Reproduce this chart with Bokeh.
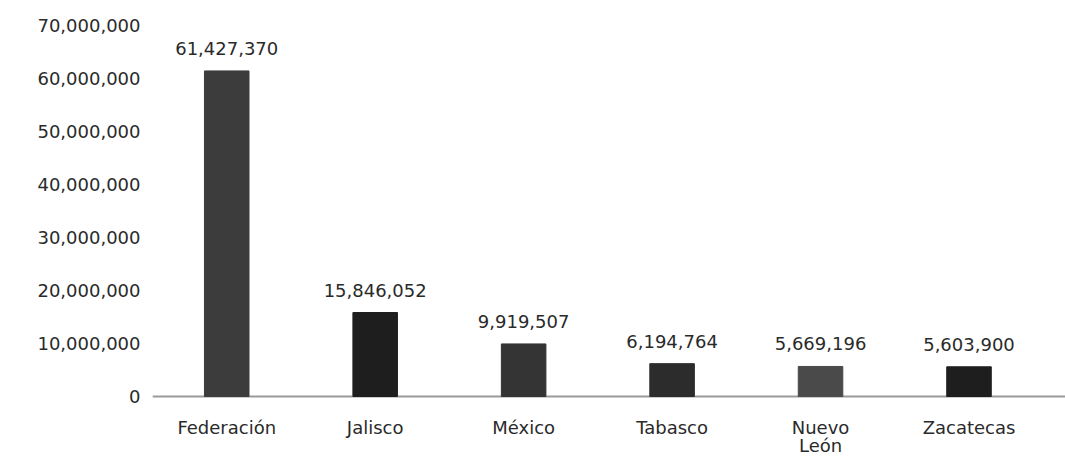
from bokeh.plotting import figure
from bokeh.models import ColumnDataSource, Range1d, FixedTicker, NumeralTickFormatter, LabelSet, Span
from bokeh.core.properties import value
from bokeh.embed import file_html
from bokeh.resources import INLINE

categories = ["Federación", "Jalisco", "México", "Tabasco", "Nuevo León", "Zacatecas"]
axis_labels = ["Federación", "Jalisco", "México", "Tabasco", "Nuevo\nLeón", "Zacatecas"]
values = [61427370, 15846052, 9919507, 6194764, 5669196, 5603900]
value_labels = ["61,427,370", "15,846,052", "9,919,507", "6,194,764", "5,669,196", "5,603,900"]
bar_colors = ["#3c3c3c", "#1e1e1e", "#343434", "#2c2c2c", "#4a4a4a", "#1e1e1e"]
y_ticks = [0, 10000000, 20000000, 30000000, 40000000, 50000000, 60000000, 70000000]

FONT = "DejaVu Sans"
TXT = "#2a2a2a"

xs = list(range(len(categories)))
line1 = [lab.split("\n")[0] for lab in axis_labels]
line2 = [lab.split("\n")[1] if "\n" in lab else "" for lab in axis_labels]
src = ColumnDataSource(dict(x=xs, top=values, zero=[0] * len(xs), color=bar_colors,
                            label=value_labels, cat1=line1, cat2=line2))

# frame: 70M at top (25px), 0 at 396px, frame extends to canvas bottom (457px)
y_bottom = -70000000 * 61 / 371

p = figure(width=1065, height=457, output_backend="svg", toolbar_location=None,
           x_range=Range1d(-0.5, 5.65), y_range=Range1d(y_bottom, 70000000),
           x_axis_location=None,
           min_border_left=152, min_border_right=0, min_border_top=25, min_border_bottom=0)
p.outline_line_color = None
p.background_fill_color = "white"
p.grid.visible = False

baseline = Span(location=0, dimension="width", line_color="#9a9a9a", line_width=2,
                level="underlay")
p.add_layout(baseline)

p.vbar(x="x", top="top", width=0.3, bottom=0, color="color", source=src)

labels = LabelSet(x="x", y="top", text="label", source=src, text_align="center",
                  text_baseline="bottom", y_offset=16, text_font=value(FONT),
                  text_font_size="18px", text_color=TXT)
p.add_layout(labels)

cats1 = LabelSet(x="x", y="zero", text="cat1", source=src, text_align="center",
                 text_baseline="top", y_offset=-20, text_font=value(FONT),
                 text_font_size="18px", text_color=TXT)
p.add_layout(cats1)
cats2 = LabelSet(x="x", y="zero", text="cat2", source=src, text_align="center",
                 text_baseline="top", y_offset=-38, text_font=value(FONT),
                 text_font_size="18px", text_color=TXT)
p.add_layout(cats2)

p.yaxis.ticker = FixedTicker(ticks=y_ticks)
p.yaxis.formatter = NumeralTickFormatter(format="0,0")
p.yaxis.axis_line_color = None
p.yaxis.major_tick_line_color = None
p.yaxis.minor_tick_line_color = None
p.yaxis.major_label_standoff = 6
p.yaxis.major_label_text_font = FONT
p.yaxis.major_label_text_font_size = "18px"
p.yaxis.major_label_text_color = TXT

open("out.html", "w").write(file_html(p, INLINE))
